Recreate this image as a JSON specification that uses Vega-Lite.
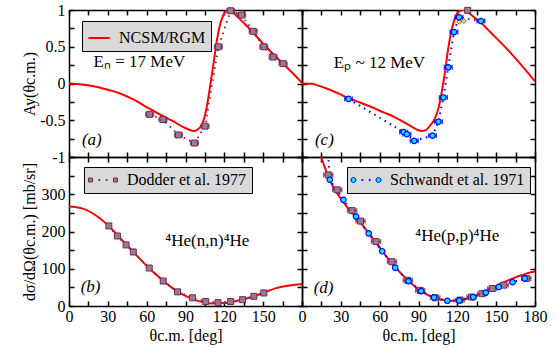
{
  "$schema": "https://vega.github.io/schema/vega-lite/v6.json",
  "padding": {"left": 20, "top": 2, "right": 5, "bottom": 5},
  "background": "white",
  "bounds": "flush",
  "config": {
    "font": "Liberation Serif",
    "view": {"stroke": null},
    "axis": {"domainColor": "black", "domainWidth": 1.5, "tickColor": "black", "tickWidth": 1.5, "tickSize": -5, "labelPadding": 7, "labelFontSize": 16, "labelColor": "black", "labelFont": "Liberation Serif", "titleFont": "Liberation Serif", "titleFontSize": 16, "titleFontWeight": "normal", "titleColor": "black", "grid": false, "labelFlush": false, "labelOverlap": false, "minExtent": 0},
    "legend": {"labelFont": "Liberation Serif", "labelFontSize": 16, "labelColor": "black", "fillColor": "#d9d9d9", "strokeColor": "black", "padding": 5, "orient": "none"},
    "text": {"font": "Liberation Serif"}
  },
  "datasets": {
    "redA": [{"t":0,"v":0},{"t":10,"v":-0.015},{"t":20,"v":-0.04},{"t":30,"v":-0.085},{"t":40,"v":-0.14},{"t":50,"v":-0.22},{"t":60,"v":-0.32},{"t":70,"v":-0.42},{"t":80,"v":-0.51},{"t":88,"v":-0.59},{"t":93,"v":-0.63},{"t":96.2,"v":-0.646},{"t":99,"v":-0.63},{"t":102.6,"v":-0.56},{"t":104.5,"v":-0.47},{"t":106.4,"v":-0.32},{"t":109,"v":-0.04},{"t":111.5,"v":0.25},{"t":114.1,"v":0.57},{"t":116.7,"v":0.8},{"t":119.2,"v":0.93},{"t":122.6,"v":1.0},{"t":125,"v":0.99},{"t":130,"v":0.91},{"t":137,"v":0.79},{"t":145,"v":0.64},{"t":151,"v":0.52},{"t":160,"v":0.36},{"t":170,"v":0.19},{"t":180,"v":0.01}],
    "dodA": [{"t":62.3,"v":-0.42,"e":3},{"t":72.6,"v":-0.49,"e":3},{"t":84.6,"v":-0.7,"e":3},{"t":96.9,"v":-0.81,"e":3},{"t":105.1,"v":-0.58,"e":3},{"t":115.4,"v":0.5,"e":3},{"t":124.9,"v":0.99,"e":3},{"t":133.3,"v":0.93,"e":3},{"t":142.3,"v":0.71,"e":3},{"t":150.5,"v":0.5,"e":3},{"t":157.7,"v":0.36,"e":3},{"t":165.4,"v":0.27,"e":3}],
    "redC": [{"t":0,"v":0},{"t":8,"v":-0.005},{"t":12,"v":-0.025},{"t":20,"v":-0.075},{"t":28,"v":-0.135},{"t":36,"v":-0.2},{"t":45,"v":-0.26},{"t":55,"v":-0.33},{"t":64,"v":-0.4},{"t":70.8,"v":-0.45},{"t":78,"v":-0.52},{"t":84,"v":-0.58},{"t":89,"v":-0.63},{"t":92.6,"v":-0.646},{"t":96,"v":-0.63},{"t":99,"v":-0.57},{"t":102.8,"v":-0.47},{"t":105.4,"v":-0.34},{"t":108,"v":-0.11},{"t":110.5,"v":0.16},{"t":113,"v":0.48},{"t":115.6,"v":0.73},{"t":118.2,"v":0.89},{"t":122,"v":0.99},{"t":124.6,"v":1.0},{"t":128,"v":0.97},{"t":133,"v":0.9},{"t":138.7,"v":0.82},{"t":146,"v":0.69},{"t":154,"v":0.55},{"t":162,"v":0.4},{"t":169.5,"v":0.25},{"t":180,"v":0.03}],
    "schC": [{"t":36,"v":-0.21,"e":3},{"t":78.5,"v":-0.66,"e":3},{"t":81,"v":-0.69,"e":3},{"t":86.7,"v":-0.78,"e":3},{"t":100.8,"v":-0.71,"e":3},{"t":105.4,"v":-0.52,"e":3},{"t":109.2,"v":-0.19,"e":3},{"t":113,"v":0.22,"e":3},{"t":117.4,"v":0.7,"e":3},{"t":121.3,"v":0.9,"e":3},{"t":138.2,"v":0.85,"e":3}],
    "extraC": [{"t":128,"v":0.995}],
    "yelC": [{"t":121.5,"v":0.84},{"t":125,"v":0.85}],
    "redB": [{"t":0,"v":267},{"t":10,"v":262},{"t":20,"v":245},{"t":30,"v":217},{"t":40,"v":181},{"t":50,"v":144},{"t":60,"v":108},{"t":70,"v":76},{"t":80,"v":48},{"t":90,"v":27},{"t":100,"v":13},{"t":110,"v":7},{"t":120,"v":8},{"t":130,"v":14},{"t":140,"v":23},{"t":150,"v":35},{"t":160,"v":48},{"t":170,"v":55},{"t":180,"v":59}],
    "dodB": [{"t":30.8,"v":215},{"t":37.4,"v":188},{"t":44.1,"v":164},{"t":49.7,"v":145},{"t":62,"v":102},{"t":72.8,"v":67},{"t":83.8,"v":38},{"t":95.4,"v":22},{"t":105.6,"v":12},{"t":115.1,"v":9},{"t":124.9,"v":12},{"t":134.1,"v":17},{"t":142.8,"v":26},{"t":150.5,"v":35}],
    "redD": [{"t":11,"v":460},{"t":13,"v":425},{"t":15,"v":398},{"t":17,"v":378},{"t":20,"v":350},{"t":25,"v":314},{"t":30,"v":288},{"t":35,"v":265},{"t":40,"v":245},{"t":45,"v":225},{"t":50,"v":202},{"t":55,"v":180},{"t":60,"v":157},{"t":65,"v":134},{"t":70,"v":113},{"t":75,"v":93},{"t":80,"v":75},{"t":85,"v":59},{"t":90,"v":45},{"t":95,"v":34},{"t":100,"v":25},{"t":105,"v":19},{"t":110,"v":15.5},{"t":115,"v":14},{"t":120,"v":15},{"t":125,"v":18},{"t":130,"v":23},{"t":135,"v":29},{"t":140,"v":36},{"t":145,"v":44},{"t":150,"v":53},{"t":155,"v":62},{"t":160,"v":70},{"t":165,"v":77},{"t":170,"v":83},{"t":175,"v":89},{"t":180,"v":93}],
    "schD": [{"t":19.5,"v":440,"e":2},{"t":21.5,"v":339,"e":2},{"t":32,"v":285,"e":2},{"t":41.8,"v":240,"e":2},{"t":51.5,"v":195,"e":2},{"t":62,"v":147,"e":2},{"t":72,"v":103,"e":2},{"t":82.3,"v":67,"e":2},{"t":92,"v":40,"e":2},{"t":102,"v":23,"e":2},{"t":112.3,"v":14,"e":2},{"t":121.5,"v":15,"e":2},{"t":132.3,"v":24,"e":2},{"t":142,"v":36,"e":2},{"t":152,"v":51,"e":2},{"t":162.6,"v":64,"e":2},{"t":172,"v":74,"e":2}],
    "sqD": [{"t":20.3,"v":352,"e":3.5},{"t":27.2,"v":312,"e":3.5},{"t":38.7,"v":256,"e":3.5},{"t":45.2,"v":228,"e":3.5},{"t":57.2,"v":173,"e":3.5},{"t":69.5,"v":119,"e":3.5},{"t":81.8,"v":69,"e":3.5},{"t":91.3,"v":42,"e":3.5},{"t":103,"v":22,"e":3.5},{"t":122,"v":16,"e":3.5},{"t":131,"v":24,"e":3.5},{"t":139.2,"v":33,"e":3.5},{"t":147,"v":47,"e":3.5},{"t":155.9,"v":56,"e":3.5},{"t":173.3,"v":74,"e":3.5}]
  },
  "columns": 2,
  "spacing": 0,
  "resolve": {"scale": {"x": "independent", "y": "independent", "color": "independent"}, "legend": {"color": "independent"}, "axis": {"x": "independent", "y": "independent"}},
  "concat": [
    {
      "width": 233, "height": 147,
      "resolve": {"axis": {"x": "independent", "y": "independent"}},
      "layer": [
        {"data": {"name": "redA"}, "mark": {"type": "line", "color": "#ff0000", "strokeWidth": 2, "interpolate": "monotone", "clip": true},
         "encoding": {
           "x": {"field": "t", "type": "quantitative", "scale": {"domain": [0, 180], "nice": false, "zero": false}, "axis": {"orient": "bottom", "values": [0,15,30,45,60,75,90,105,120,135,150,165,180], "labels": false, "title": null}},
           "y": {"field": "v", "type": "quantitative", "scale": {"domain": [-1, 1], "nice": false, "zero": false}, "axis": {"orient": "left", "values": [-1,-0.75,-0.5,-0.25,0,0.25,0.5,0.75,1], "labelPadding": 9, "labelExpr": "datum.value % 0.5 === 0 ? '' + datum.value : ''", "title": "Ay(θc.m.)", "titleX": -32, "titleY": 73.5, "titleBaseline": "bottom", "titleAngle": 270}},
           "color": {"datum": "NCSM/RGM", "type": "nominal", "scale": {"range": ["#ff0000"]}, "legend": {"title": null, "legendX": 13, "legendY": 11, "symbolType": "stroke", "symbolSize": 450, "symbolStrokeWidth": 2, "labelOffset": 8}}
         }},
        {"data": {"name": "dodA"}, "mark": {"type": "line", "color": "#6d2a5b", "strokeWidth": 2, "strokeDash": [1.5, 4.5]},
         "encoding": {
           "x": {"field": "t", "type": "quantitative", "axis": {"orient": "top", "values": [0,15,30,45,60,75,90,105,120,135,150,165,180], "labels": false, "title": null}},
           "y": {"field": "v", "type": "quantitative", "axis": {"orient": "right", "values": [-1,-0.75,-0.5,-0.25,0,0.25,0.5,0.75,1], "labels": false, "title": null}}
         }},
        {"data": {"name": "dodA"}, "mark": {"type": "errorbar", "color": "#6d2a5b", "thickness": 1.5, "ticks": {"size": 5}},
         "encoding": {
           "x": {"field": "t", "type": "quantitative", "axis": null},
           "xError": {"field": "e"},
           "y": {"field": "v", "type": "quantitative", "axis": null}
         }},
        {"data": {"name": "dodA"}, "mark": {"type": "point", "shape": "square", "filled": true, "size": 36, "fill": "#9b7a8b", "stroke": "#6d2a5b", "strokeWidth": 1, "opacity": 1},
         "encoding": {
           "x": {"field": "t", "type": "quantitative", "axis": null},
           "y": {"field": "v", "type": "quantitative", "axis": null}
         }},
        {"data": {"values": [{}]}, "mark": {"type": "text", "fontSize": 17, "fontStyle": "italic", "align": "left", "baseline": "middle"},
         "encoding": {"x": {"datum": 10, "type": "quantitative", "axis": null}, "y": {"datum": -0.77, "type": "quantitative", "axis": null}, "text": {"value": "(a)"}}},
        {"data": {"values": [{}]}, "mark": {"type": "text", "fontSize": 17, "align": "left", "baseline": "middle"},
         "encoding": {"x": {"datum": 19, "type": "quantitative", "axis": null}, "y": {"datum": 0.29, "type": "quantitative", "axis": null}, "text": {"value": "Eₙ = 17 MeV"}}}
      ]
    },
    {
      "width": 233, "height": 147,
      "resolve": {"axis": {"x": "independent", "y": "independent"}},
      "layer": [
        {"data": {"name": "redC"}, "mark": {"type": "line", "color": "#ff0000", "strokeWidth": 2, "interpolate": "monotone", "clip": true},
         "encoding": {
           "x": {"field": "t", "type": "quantitative", "scale": {"domain": [0, 180], "nice": false, "zero": false}, "axis": {"orient": "bottom", "values": [0,15,30,45,60,75,90,105,120,135,150,165,180], "labels": false, "title": null}},
           "y": {"field": "v", "type": "quantitative", "scale": {"domain": [-1, 1], "nice": false, "zero": false}, "axis": {"orient": "left", "values": [-1,-0.75,-0.5,-0.25,0,0.25,0.5,0.75,1], "labels": false, "title": null}}
         }},
        {"data": {"name": "schC"}, "mark": {"type": "line", "color": "#0000ff", "strokeWidth": 2, "strokeDash": [1.5, 4.5]},
         "encoding": {
           "x": {"field": "t", "type": "quantitative", "axis": {"orient": "top", "values": [0,15,30,45,60,75,90,105,120,135,150,165,180], "labels": false, "title": null}},
           "y": {"field": "v", "type": "quantitative", "axis": {"orient": "right", "values": [-1,-0.75,-0.5,-0.25,0,0.25,0.5,0.75,1], "labels": false, "title": null}}
         }},
        {"data": {"name": "schC"}, "mark": {"type": "errorbar", "color": "#0000ff", "thickness": 1.5, "ticks": {"size": 5}},
         "encoding": {
           "x": {"field": "t", "type": "quantitative", "axis": null},
           "xError": {"field": "e"},
           "y": {"field": "v", "type": "quantitative", "axis": null}
         }},
        {"data": {"name": "extraC"}, "mark": {"type": "point", "shape": "square", "filled": true, "size": 36, "fill": "#9b7a8b", "stroke": "#6d2a5b", "strokeWidth": 1, "opacity": 1},
         "encoding": {
           "x": {"field": "t", "type": "quantitative", "axis": null},
           "y": {"field": "v", "type": "quantitative", "axis": null}
         }},
        {"data": {"name": "yelC"}, "mark": {"type": "point", "shape": "diamond", "filled": true, "size": 25, "fill": "#ffee00", "stroke": "#6a5acd", "strokeWidth": 1, "opacity": 1},
         "encoding": {
           "x": {"field": "t", "type": "quantitative", "axis": null},
           "y": {"field": "v", "type": "quantitative", "axis": null}
         }},
        {"data": {"name": "schC"}, "mark": {"type": "point", "shape": "circle", "filled": true, "size": 30, "fill": "#00e5ff", "stroke": "#0000ff", "strokeWidth": 1.2, "opacity": 1},
         "encoding": {
           "x": {"field": "t", "type": "quantitative", "axis": null},
           "y": {"field": "v", "type": "quantitative", "axis": null}
         }},
        {"data": {"values": [{}]}, "mark": {"type": "text", "fontSize": 17, "fontStyle": "italic", "align": "left", "baseline": "middle"},
         "encoding": {"x": {"datum": 10, "type": "quantitative", "axis": null}, "y": {"datum": -0.77, "type": "quantitative", "axis": null}, "text": {"value": "(c)"}}},
        {"data": {"values": [{}]}, "mark": {"type": "text", "fontSize": 17, "align": "left", "baseline": "middle"},
         "encoding": {"x": {"datum": 24.6, "type": "quantitative", "axis": null}, "y": {"datum": 0.28, "type": "quantitative", "axis": null}, "text": {"value": "Eₚ ~ 12 MeV"}}}
      ]
    },
    {
      "width": 233, "height": 149,
      "resolve": {"axis": {"x": "independent", "y": "independent"}},
      "layer": [
        {"data": {"name": "redB"}, "mark": {"type": "line", "color": "#ff0000", "strokeWidth": 2, "interpolate": "monotone", "clip": true},
         "encoding": {
           "x": {"field": "t", "type": "quantitative", "scale": {"domain": [0, 180], "nice": false, "zero": false}, "axis": {"orient": "bottom", "values": [0,15,30,45,60,75,90,105,120,135,150,165,180], "labelExpr": "datum.value % 30 === 0 && datum.value < 180 ? '' + datum.value : ''", "title": "θc.m. [deg]", "titlePadding": 3}},
           "y": {"field": "v", "type": "quantitative", "scale": {"domain": [0, 400], "nice": false, "zero": false}, "axis": {"orient": "left", "values": [0,50,100,150,200,250,300,350,400], "labelPadding": 9, "labelExpr": "datum.value % 100 === 0 && datum.value < 400 ? '' + datum.value : ''", "title": "dσ/dΩ(θc.m.) [mb/sr]", "titleX": -32, "titleY": 74.5, "titleBaseline": "bottom", "titleAngle": 270}}
         }},
        {"data": {"name": "dodB"}, "mark": {"type": "line", "color": "#6d2a5b", "strokeWidth": 2, "strokeDash": [1.5, 4.5]},
         "encoding": {
           "x": {"field": "t", "type": "quantitative", "axis": {"orient": "top", "values": [0,15,30,45,60,75,90,105,120,135,150,165,180], "labels": false, "title": null}},
           "y": {"field": "v", "type": "quantitative", "axis": {"orient": "right", "values": [0,50,100,150,200,250,300,350,400], "labels": false, "title": null}}
         }},
        {"data": {"name": "dodB"}, "mark": {"type": "point", "shape": "square", "filled": true, "size": 36, "stroke": "#6d2a5b", "strokeWidth": 1, "opacity": 1},
         "encoding": {
           "x": {"field": "t", "type": "quantitative", "axis": null},
           "y": {"field": "v", "type": "quantitative", "axis": null},
           "color": {"datum": "Dodder et al. 1977", "type": "nominal", "scale": {"range": ["#9b7a8b"]}, "legend": {"title": null, "legendX": 15, "legendY": 10, "symbolType": "M-2.07,-0.29h0.57v0.57h-0.57z M1.5,-0.29h0.57v0.57h-0.57z M-0.6,-0.08h0.16v0.16h-0.16z M0.44,-0.08h0.16v0.16h-0.16z", "symbolSize": 196, "symbolOffset": 6, "labelOffset": 16, "symbolStrokeColor": "#6d2a5b", "symbolStrokeWidth": 1}}
         }},
        {"data": {"values": [{}]}, "mark": {"type": "text", "fontSize": 17, "fontStyle": "italic", "align": "left", "baseline": "middle"},
         "encoding": {"x": {"datum": 9, "type": "quantitative", "axis": null}, "y": {"datum": 51, "type": "quantitative", "axis": null}, "text": {"value": "(b)"}}},
        {"data": {"values": [{}]}, "mark": {"type": "text", "fontSize": 17, "align": "left", "baseline": "middle"},
         "encoding": {"x": {"datum": 74.4, "type": "quantitative", "axis": null}, "y": {"datum": 174, "type": "quantitative", "axis": null}, "text": {"value": "⁴He(n,n)⁴He"}}}
      ]
    },
    {
      "width": 233, "height": 149,
      "resolve": {"axis": {"x": "independent", "y": "independent"}},
      "layer": [
        {"data": {"name": "redD"}, "mark": {"type": "line", "color": "#ff0000", "strokeWidth": 2, "interpolate": "monotone", "clip": true},
         "encoding": {
           "x": {"field": "t", "type": "quantitative", "scale": {"domain": [0, 180], "nice": false, "zero": false}, "axis": {"orient": "bottom", "values": [0,15,30,45,60,75,90,105,120,135,150,165,180], "labelExpr": "datum.value % 30 === 0 ? '' + datum.value : ''", "title": "θc.m. [deg]", "titlePadding": 3}},
           "y": {"field": "v", "type": "quantitative", "scale": {"domain": [0, 400], "nice": false, "zero": false}, "axis": {"orient": "left", "values": [0,50,100,150,200,250,300,350,400], "labels": false, "title": null}}
         }},
        {"data": {"name": "schD"}, "mark": {"type": "line", "color": "#0000ff", "strokeWidth": 2, "strokeDash": [1.5, 4.5], "clip": true},
         "encoding": {
           "x": {"field": "t", "type": "quantitative", "axis": {"orient": "top", "values": [0,15,30,45,60,75,90,105,120,135,150,165,180], "labels": false, "title": null}},
           "y": {"field": "v", "type": "quantitative", "axis": {"orient": "right", "values": [0,50,100,150,200,250,300,350,400], "labels": false, "title": null}}
         }},
        {"data": {"name": "sqD"}, "mark": {"type": "errorbar", "color": "#6d2a5b", "thickness": 1.5, "ticks": {"size": 5}},
         "encoding": {
           "x": {"field": "t", "type": "quantitative", "axis": null},
           "xError": {"field": "e"},
           "y": {"field": "v", "type": "quantitative", "axis": null}
         }},
        {"data": {"name": "sqD"}, "mark": {"type": "point", "shape": "square", "filled": true, "size": 36, "fill": "#9b7a8b", "stroke": "#6d2a5b", "strokeWidth": 1, "opacity": 1},
         "encoding": {
           "x": {"field": "t", "type": "quantitative", "axis": null},
           "y": {"field": "v", "type": "quantitative", "axis": null}
         }},
        {"data": {"name": "schD"}, "mark": {"type": "point", "shape": "circle", "filled": true, "size": 30, "stroke": "#0000ff", "strokeWidth": 1.2, "opacity": 1, "clip": true},
         "encoding": {
           "x": {"field": "t", "type": "quantitative", "axis": null},
           "y": {"field": "v", "type": "quantitative", "axis": null},
           "color": {"datum": "Schwandt et al. 1971", "type": "nominal", "scale": {"range": ["#00e5ff"]}, "legend": {"title": null, "legendX": 45, "legendY": 10, "symbolType": "M-2.15,0a0.36,0.36 0 1,0 0.72,0a0.36,0.36 0 1,0 -0.72,0z M1.43,0a0.36,0.36 0 1,0 0.72,0a0.36,0.36 0 1,0 -0.72,0z M-0.6,-0.08h0.16v0.16h-0.16z M0.44,-0.08h0.16v0.16h-0.16z", "symbolSize": 196, "symbolOffset": 6, "labelOffset": 16, "symbolStrokeColor": "#0000ff", "symbolStrokeWidth": 1}}
         }},
        {"data": {"values": [{}]}, "mark": {"type": "text", "fontSize": 17, "fontStyle": "italic", "align": "left", "baseline": "middle"},
         "encoding": {"x": {"datum": 9, "type": "quantitative", "axis": null}, "y": {"datum": 48, "type": "quantitative", "axis": null}, "text": {"value": "(d)"}}},
        {"data": {"values": [{}]}, "mark": {"type": "text", "fontSize": 17, "align": "left", "baseline": "middle"},
         "encoding": {"x": {"datum": 87.5, "type": "quantitative", "axis": null}, "y": {"datum": 188, "type": "quantitative", "axis": null}, "text": {"value": "⁴He(p,p)⁴He"}}}
      ]
    }
  ]
}
